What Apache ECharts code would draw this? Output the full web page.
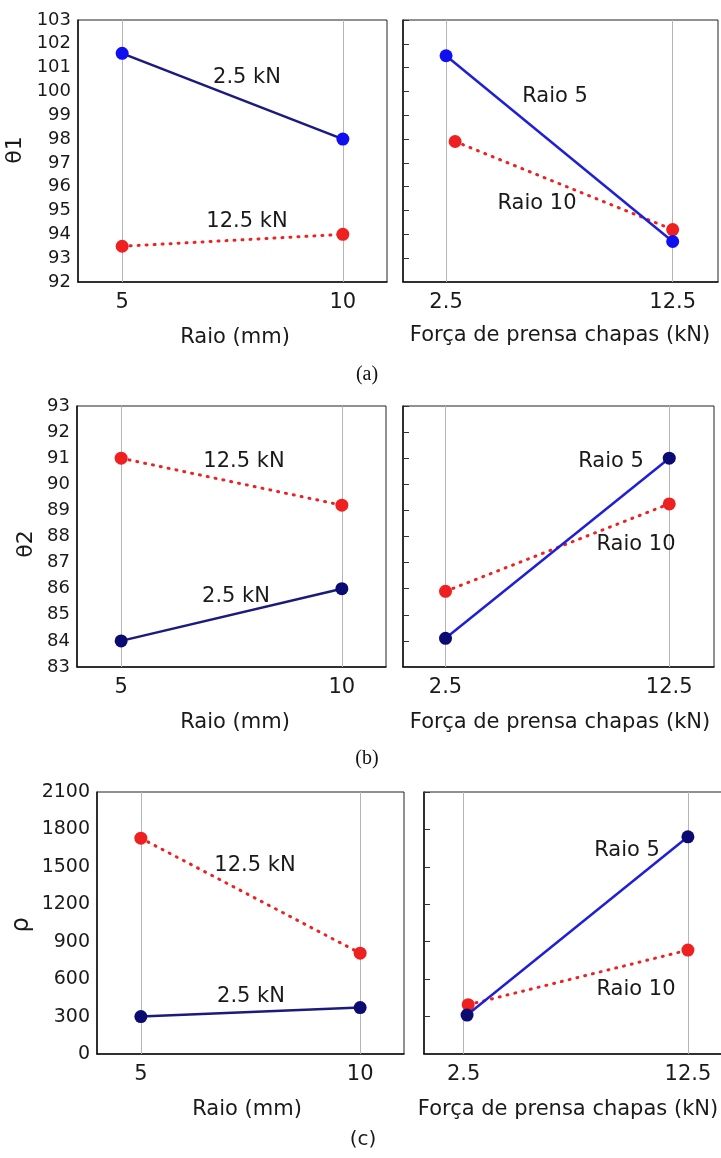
<!DOCTYPE html>
<html><head><meta charset="utf-8">
<script src="https://cdn.jsdelivr.net/npm/echarts@6/dist/echarts.min.js"></script>
<style>html,body{margin:0;padding:0;background:#fff}#c{width:721px;height:1158px}</style>
</head><body><div id="c"></div>
<script>
// ---- tick labels / categories ----
const raioTicks = [5, 10];            // Raio (mm)
const forcaTicks = [2.5, 12.5];       // Força de prensa chapas (kN)
const theta1Range = [92, 103, 1];
const theta2Range = [83, 93, 1];
const rhoRange = [0, 2100, 300];

// ---- (a) θ1 ----
const theta1_f2_5 = [101.6, 98.0];     // 2.5 kN vs raio
const theta1_f12_5 = [93.5, 94.0];     // 12.5 kN vs raio
const theta1_r5 = [101.5, 93.7];       // Raio 5 vs força
const theta1_r10 = [97.9, 94.2];       // Raio 10 vs força
const theta1_r10_x = [2.9, 12.5];

// ---- (b) θ2 ----
const theta2_f2_5 = [84.0, 86.0];
const theta2_f12_5 = [91.0, 89.2];
const theta2_r5 = [84.1, 91.0];
const theta2_r10 = [85.9, 89.25];

// ---- (c) ρ ----
const rho_f2_5 = [300, 372];
const rho_f12_5 = [1730, 808];
const rho_r5 = [312, 1741];
const rho_r10 = [395, 833];
const rho_r5_x = [2.65, 12.5];
const rho_r10_x = [2.7, 12.5];

const NAVY = '#1b1b7d', BLUE = '#1f1fd6', RED = '#ee2020', MBLUE = '#0f0ff0', MNAVY = '#0b0b72';
const FONT = 'DejaVu Sans';
const TXT = '#1a1a1a';

const grids = [
  {left: 78, top: 20, width: 309, height: 262},
  {left: 403, top: 20, width: 315, height: 262},
  {left: 77, top: 406, width: 309, height: 261},
  {left: 403, top: 406, width: 311, height: 261},
  {left: 97, top: 792, width: 307, height: 262},
  {left: 424, top: 792, width: 311, height: 262}
];
const xRanges = [[4, 11], [0.6, 14.5], [4, 11], [0.6, 14.5], [4, 11], [0.73, 14.6]];
const xTickSets = [raioTicks, forcaTicks, raioTicks, forcaTicks, raioTicks, forcaTicks];
const yRanges = [theta1Range, theta1Range, theta2Range, theta2Range, rhoRange, rhoRange];
const yFont = [18, 18, 18, 18, 19, 19];

const zip = (xs, ys) => xs.map((x, i) => [x, ys[i]]);

const xAxis = grids.map((g, i) => ({
  type: 'value', gridIndex: i, min: xRanges[i][0], max: xRanges[i][1],
  axisLine: {show: true, onZero: false, lineStyle: {color: '#111', width: 1.5}},
  axisTick: {show: false},
  splitLine: {show: false},
  axisLabel: {show: true, customValues: xTickSets[i], margin: 10, fontSize: 21, fontFamily: FONT, color: TXT,
    formatter: v => String(v)}
}));
const yAxis = grids.map((g, i) => {
  const r = yRanges[i];
  const left = i % 2 === 0;
  return {
    type: 'value', gridIndex: i, min: r[0], max: r[1], interval: r[2],
    axisLine: {show: true, lineStyle: {color: '#111', width: 1.5}},
    axisTick: {show: !left, inside: true, length: 6, lineStyle: {color: '#333'}},
    splitLine: {show: false},
    axisLabel: {show: left, margin: 7, fontSize: yFont[i], fontFamily: FONT, color: TXT,
      formatter: v => String(v)}
  };
});

function vlines(ticks) {
  return {silent: true, symbol: ['none', 'none'], z: 1, label: {show: false},
    lineStyle: {color: '#b5b5b5', width: 1, type: 'solid'}, emphasis: {disabled: true},
    data: ticks.map(v => ({xAxis: v}))};
}
function solid(i, data, lineColor, markColor, withLines) {
  const s = {type: 'line', xAxisIndex: i, yAxisIndex: i, data, symbol: 'circle', symbolSize: 13,
    itemStyle: {color: markColor}, lineStyle: {color: lineColor, width: 2.5, type: 'solid'}, z: 3};
  if (withLines) s.markLine = vlines(xTickSets[i]);
  return s;
}
function dotted(i, data) {
  return {type: 'line', xAxisIndex: i, yAxisIndex: i, data, symbol: 'circle', symbolSize: 13,
    itemStyle: {color: RED}, lineStyle: {color: RED, width: 3, type: [1, 7], cap: 'round'}, z: 2};
}

const series = [
  solid(0, zip(raioTicks, theta1_f2_5), NAVY, MBLUE, true),
  dotted(0, zip(raioTicks, theta1_f12_5)),
  dotted(1, zip(theta1_r10_x, theta1_r10)),
  solid(1, zip(forcaTicks, theta1_r5), BLUE, MBLUE, true),

  dotted(2, zip(raioTicks, theta2_f12_5)),
  solid(2, zip(raioTicks, theta2_f2_5), NAVY, MNAVY, true),
  dotted(3, zip(forcaTicks, theta2_r10)),
  solid(3, zip(forcaTicks, theta2_r5), BLUE, MNAVY, true),

  dotted(4, zip(raioTicks, rho_f12_5)),
  solid(4, zip(raioTicks, rho_f2_5), NAVY, MNAVY, true),
  dotted(5, zip(rho_r10_x, rho_r10)),
  solid(5, zip(rho_r5_x, rho_r5), BLUE, MNAVY, true)
];

function t(text, x, y, size) {
  return {type: 'text', x, y, z: 10, silent: true,
    style: {text, fill: TXT, font: size + 'px "' + FONT + '"', align: 'center', verticalAlign: 'middle'}};
}
function tr(text, x, y, size) {
  return {type: 'text', x, y, rotation: Math.PI / 2, z: 10, silent: true,
    style: {text, fill: TXT, font: size + 'px "' + FONT + '"', align: 'center', verticalAlign: 'middle'}};
}
function serif(text, x, y) {
  return {type: 'text', x, y, silent: true,
    style: {text, fill: '#111', font: '20px "Liberation Serif"', align: 'center', verticalAlign: 'middle'}};
}
const graphic = [
  // (a)
  t('2.5 kN', 247, 78, 21), t('12.5 kN', 247, 222, 21), t('Raio 5', 555, 97, 21), t('Raio 10', 537, 204, 21),
  tr('θ1', 15, 150, 22), t('Raio (mm)', 235, 338, 21), t('Força de prensa chapas (kN)', 560, 336, 21),
  serif('(a)', 367, 375),
  // (b)
  t('12.5 kN', 244, 462, 21), t('2.5 kN', 236, 597, 21), t('Raio 5', 611, 462, 21), t('Raio 10', 636, 545, 21),
  tr('θ2', 26, 544, 22), t('Raio (mm)', 235, 723, 21), t('Força de prensa chapas (kN)', 560, 723, 21),
  serif('(b)', 367, 759),
  // (c)
  t('12.5 kN', 255, 866, 21), t('2.5 kN', 251, 997, 21), t('Raio 5', 627, 851, 21), t('Raio 10', 636, 990, 21),
  tr('ρ', 22, 925, 24), t('Raio (mm)', 247, 1110, 21), t('Força de prensa chapas (kN)', 568, 1110, 21),
  t('(c)', 363, 1140, 20)
];

const chart = echarts.init(document.getElementById('c'), null, {renderer: 'canvas'});
chart.setOption({
  animation: false,
  backgroundColor: '#fff',
  grid: grids.map(g => Object.assign({show: true, borderColor: '#222', borderWidth: 1, backgroundColor: 'transparent', containLabel: false, outerBoundsMode: 'none'}, g)),
  xAxis, yAxis, series, graphic
});
</script></body></html>
